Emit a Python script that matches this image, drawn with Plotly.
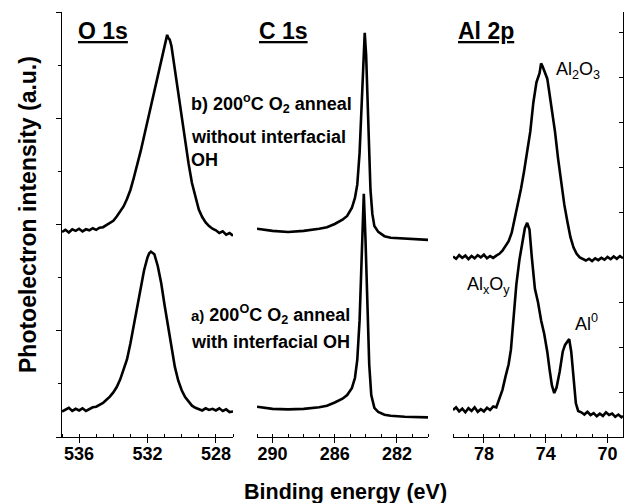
import plotly.graph_objects as go

# ---------------- data (binding energy in eV, intensity in a.u.) ----------------
o1s_be = [537.0, 536.8, 536.6, 536.4, 536.2, 536.0, 535.8, 535.6, 535.4, 535.2, 535.0,
          534.8, 534.6, 534.4, 534.2, 534.0, 533.8, 533.6, 533.4, 533.2, 533.0, 532.8,
          532.6, 532.4, 532.2, 532.0, 531.8, 531.6, 531.4, 531.2, 531.0, 530.9, 530.85,
          530.8, 530.7, 530.6, 530.4, 530.2, 530.0, 529.8, 529.6, 529.4, 529.2, 529.0,
          528.8, 528.6, 528.4, 528.2, 528.0, 527.8, 527.6, 527.4, 527.2, 527.0]
o1s_b = [3.86, 3.90, 3.85, 3.91, 3.88, 3.92, 3.87, 3.91, 3.89, 3.93, 3.90,
         3.94, 3.95, 3.99, 4.02, 4.07, 4.15, 4.24, 4.34, 4.48, 4.65, 4.88,
         5.12, 5.38, 5.66, 5.95, 6.25, 6.52, 6.82, 7.10, 7.38, 7.50, 7.57,
         7.52, 7.48, 7.36, 6.92, 6.48, 5.97, 5.55, 5.15, 4.78, 4.50, 4.28,
         4.14, 4.04, 3.97, 3.92, 3.89, 3.84, 3.87, 3.81, 3.84, 3.79]

o1s_be_a = [537.0, 536.8, 536.6, 536.4, 536.2, 536.0, 535.8, 535.6, 535.4, 535.2, 535.0,
            534.8, 534.6, 534.4, 534.2, 534.0, 533.8, 533.6, 533.4, 533.2, 533.0, 532.8,
            532.6, 532.4, 532.2, 532.0, 531.9, 531.8, 531.7, 531.6, 531.4, 531.2, 531.0,
            530.8, 530.6, 530.4, 530.2, 530.0, 529.8, 529.6, 529.4, 529.2, 529.0, 528.8,
            528.6, 528.4, 528.2, 528.0, 527.8, 527.6, 527.4, 527.2, 527.0]
o1s_a = [0.48, 0.52, 0.55, 0.49, 0.53, 0.50, 0.54, 0.49, 0.53, 0.56, 0.57,
         0.60, 0.64, 0.70, 0.76, 0.84, 0.94, 1.08, 1.25, 1.46, 1.76, 2.12,
         2.48, 2.82, 3.14, 3.38, 3.46, 3.49, 3.47, 3.44, 3.22, 2.90, 2.48,
         2.08, 1.68, 1.32, 1.06, 0.88, 0.75, 0.66, 0.59, 0.55, 0.52, 0.50,
         0.54, 0.51, 0.53, 0.50, 0.54, 0.49, 0.52, 0.47, 0.48]

c1s_be_b = [291.0, 290.0, 289.0, 288.0, 287.0, 286.5, 286.0, 285.5, 285.2, 284.9, 284.7,
            284.55, 284.4, 284.25, 284.15, 284.07, 283.98, 283.9, 283.8, 283.7, 283.58,
            283.45, 283.2, 282.8, 282.4, 281.5, 280.0]
c1s_b = [3.92, 3.88, 3.86, 3.88, 3.92, 3.95, 4.01, 4.09, 4.16, 4.31, 4.50,
         4.75, 5.35, 6.53, 7.29, 7.61, 7.19, 6.53, 5.40, 4.65, 4.20,
         3.97, 3.86, 3.78, 3.75, 3.73, 3.71]

c1s_be_a = [291.0, 290.0, 289.0, 288.0, 287.0, 286.5, 286.0, 285.5, 285.2, 284.9, 284.7,
            284.55, 284.4, 284.25, 284.13, 284.02, 283.9, 283.78, 283.65, 283.45, 283.2,
            282.8, 282.4, 281.5, 280.0]
c1s_a = [0.57, 0.53, 0.52, 0.53, 0.56, 0.59, 0.65, 0.72, 0.79, 0.92, 1.11,
         1.45, 2.20, 3.52, 4.58, 3.71, 2.34, 1.36, 0.79, 0.55, 0.47,
         0.42, 0.40, 0.38, 0.37]

al_be_b = [80.0, 79.8, 79.6, 79.4, 79.2, 79.0, 78.8, 78.6, 78.4, 78.2, 78.0, 77.8, 77.6,
           77.4, 77.2, 77.0, 76.8, 76.6, 76.4, 76.2, 76.0, 75.8, 75.6, 75.4, 75.2, 75.0,
           74.8, 74.6, 74.4, 74.3, 74.2, 74.1, 74.0, 73.9, 73.8, 73.6, 73.4, 73.2, 73.0,
           72.8, 72.6, 72.4, 72.2, 72.0, 71.8, 71.6, 71.4, 71.2, 71.0, 70.8, 70.6, 70.4,
           70.2, 70.0, 69.8, 69.6, 69.4, 69.2, 69.0]
al_b = [4.02, 3.97, 4.05, 3.99, 4.04, 3.96, 4.03, 3.98, 4.05, 4.00, 4.06, 3.98, 4.03,
        3.99, 4.04, 4.08, 4.15, 4.26, 4.36, 4.55, 4.86, 5.18, 5.53, 5.92, 6.35, 6.80,
        7.45, 7.90, 8.10, 8.32, 8.25, 8.15, 8.05, 7.98, 7.75, 7.30, 6.80, 6.20, 5.65,
        5.18, 4.80, 4.45, 4.22, 4.08, 4.00, 3.96, 3.93, 3.97, 3.92, 3.98, 3.94, 3.99,
        3.95, 4.01, 3.96, 4.02, 3.97, 4.03, 3.98]

al_be_a = [80.0, 79.8, 79.6, 79.4, 79.2, 79.0, 78.8, 78.6, 78.4, 78.2, 78.0, 77.8, 77.6,
           77.4, 77.2, 77.0, 76.8, 76.6, 76.4, 76.25, 76.1, 75.9, 75.7, 75.5, 75.35, 75.2,
           75.05, 74.9, 74.7, 74.5, 74.3, 74.1, 73.9, 73.75, 73.6, 73.45, 73.3, 73.1, 72.9,
           72.75, 72.6, 72.48, 72.35, 72.2, 72.05, 71.9, 71.7, 71.5, 71.3, 71.1, 70.9, 70.7,
           70.5, 70.3, 70.1, 69.9, 69.7, 69.5, 69.3, 69.1, 69.0]
al_a = [0.60, 0.66, 0.57, 0.63, 0.55, 0.64, 0.58, 0.66, 0.56, 0.62, 0.57, 0.65, 0.60,
        0.68, 0.66, 0.85, 1.05, 1.35, 1.62, 1.95, 2.55, 3.40, 3.95, 4.40, 4.65, 4.77,
        4.62, 4.00, 3.30, 3.00, 2.60, 2.30, 1.90, 1.50, 1.15, 0.98, 1.10, 1.45, 1.90,
        2.05, 2.12, 2.18, 1.90, 1.30, 0.75, 0.58, 0.55, 0.50, 0.56, 0.49, 0.53, 0.46,
        0.52, 0.47, 0.55, 0.49, 0.52, 0.45, 0.50, 0.44, 0.47]

o1s_ticks = [536, 532, 528]
c1s_ticks = [290, 286, 282]
al_ticks = [78, 74, 70]

# ---------------- layout helpers ----------------
# The page body has an 8 px default margin; the figure is sized/placed to compensate.
OFF = 8
W, H = 633 - OFF, 503 - OFF
PLOT_L, PLOT_R, PLOT_T, PLOT_B = 62, 623, 12, 437   # plot area in window pixels
ML = PLOT_L - OFF
MT = PLOT_T - OFF
MR = 633 - PLOT_R
MB = 503 - PLOT_B
PW = PLOT_R - PLOT_L
PH = PLOT_B - PLOT_T


def pxx(px):
    return (px - PLOT_L) / PW


def pxy(py):
    return (PLOT_B - py) / PH


FONT = "Liberation Sans, Arial, sans-serif"
LINE = dict(color="black", width=2.6)

fig = go.Figure()
fig.add_trace(go.Scatter(x=o1s_be, y=o1s_b, mode="lines", line=LINE, xaxis="x", yaxis="y"))
fig.add_trace(go.Scatter(x=o1s_be_a, y=o1s_a, mode="lines", line=LINE, xaxis="x", yaxis="y"))
fig.add_trace(go.Scatter(x=c1s_be_b, y=c1s_b, mode="lines", line=LINE, xaxis="x2", yaxis="y2"))
fig.add_trace(go.Scatter(x=c1s_be_a, y=c1s_a, mode="lines", line=LINE, xaxis="x2", yaxis="y2"))
fig.add_trace(go.Scatter(x=al_be_b, y=al_b, mode="lines", line=LINE, xaxis="x3", yaxis="y3"))
fig.add_trace(go.Scatter(x=al_be_a, y=al_a, mode="lines", line=LINE, xaxis="x3", yaxis="y3"))

dom1 = [0.0, pxx(233)]
dom2 = [pxx(257), pxx(428)]
dom3 = [pxx(453), 1.0]


def bottom_axis(rng, dom, ticks, anchor):
    return dict(range=rng, domain=dom, anchor=anchor, showline=True, linecolor="black",
                linewidth=1.3, showgrid=False, zeroline=False, ticks="outside",
                tickvals=ticks, ticklen=5, tickwidth=1.2, tickcolor="black",
                ticklabelstandoff=-5,
                tickfont=dict(family=FONT, size=18, color="black", weight="bold"),
                minor=dict(dtick=1, tick0=0, ticks="inside", ticklen=3, tickwidth=1.1,
                           tickcolor="black", showgrid=False))


def top_axis(rng, over, anchor):
    return dict(range=rng, overlaying=over, side="top", anchor=anchor, showline=True,
                linecolor="black", linewidth=1.3, showgrid=False, zeroline=False,
                ticks="inside", dtick=1, tick0=0, ticklen=3, tickwidth=1.1,
                tickcolor="black", showticklabels=False)


fig.update_layout(
    width=W, height=H,
    margin=dict(l=ML, r=MR, t=MT, b=MB, pad=0),
    paper_bgcolor="white", plot_bgcolor="white",
    showlegend=False,
    xaxis=bottom_axis([537, 527], dom1, o1s_ticks, "y"),
    xaxis2=bottom_axis([291, 280], dom2, c1s_ticks, "y2"),
    xaxis3=bottom_axis([80, 69], dom3, al_ticks, "y3"),
    xaxis4=top_axis([537, 527], "x", "y"),
    xaxis5=top_axis([291, 280], "x2", "y2"),
    xaxis6=top_axis([80, 69], "x3", "y3"),
    yaxis=dict(range=[0, 8.0], domain=[0, 1], anchor="x", showline=True, linecolor="black",
               linewidth=1.3, showgrid=False, zeroline=False, ticks="outside", dtick=2,
               tick0=0, ticklen=5, tickwidth=1.2, tickcolor="black", showticklabels=False,
               minor=dict(dtick=1, tick0=0, ticks="outside", ticklen=2.5, tickwidth=1.1,
                          tickcolor="black", showgrid=False)),
    yaxis2=dict(range=[0, 8.0], domain=[0, 1], anchor="x2", visible=False),
    yaxis3=dict(range=[0, 9.465], domain=[0, 1], anchor="x3", side="right",
                showline=True, linecolor="black", linewidth=1.3, showgrid=False,
                zeroline=False, ticks="inside", dtick=1, tick0=0, ticklen=4,
                tickwidth=1.1, tickcolor="black", showticklabels=False),
)

ann = []


def add_text(text, px, py, size, bold=True, xanchor="left", angle=0):
    ann.append(dict(text=text, x=pxx(px), y=pxy(py), xref="paper", yref="paper",
                    xanchor=xanchor, yanchor="middle", showarrow=False, textangle=angle,
                    font=dict(family=FONT, size=size, color="black",
                              weight="bold" if bold else "normal")))


add_text("<u>O 1s</u>", 76, 31, 23)
add_text("<u>C 1s</u>", 257, 31, 23)
add_text("<u>Al 2p</u>", 456, 31, 23)
add_text("b) 200<sup>o</sup>C O<sub>2</sub> anneal", 189, 103, 18)
add_text("without interfacial", 189, 137, 18)
add_text("OH", 189, 160, 18)
add_text("<span style='font-size:15px'>a)</span> 200<sup>O</sup>C O<sub>2</sub> anneal", 189, 314, 18)
add_text("with interfacial OH", 189, 342, 18)
add_text("Al<sub>2</sub>O<sub>3</sub>", 554, 70, 18, bold=False)
add_text("Al<sub>x</sub>O<sub>y</sub>", 465, 285, 18, bold=False)
add_text("Al<sup>0</sup>", 573, 323, 18, bold=False)
add_text("Binding energy (eV)", 345, 492, 21.5, xanchor="center")
add_text("Photoelectron intensity (a.u.)", 28, 215, 23, xanchor="center", angle=-90)

fig.update_layout(annotations=ann)

fig.write_html("out.html")
